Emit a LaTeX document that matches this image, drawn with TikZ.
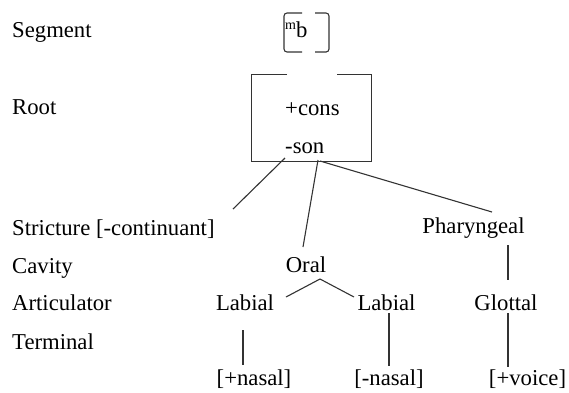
\documentclass[tikz,border=0pt]{standalone}
\usepackage{fontspec}
\setmainfont{Liberation Serif}
\begin{document}
\begin{tikzpicture}[x=1pt,y=-1pt,
  lbl/.style={inner sep=0pt,font=\fontsize{22.7}{27}\selectfont},
  edge/.style={draw=black!80,line width=1.1pt}]
\useasboundingbox (0,0) rectangle (569,392);

% tier names
\node[lbl,anchor=base west] (tSegment)   at (12,37)  {Segment};
\node[lbl,anchor=base west] (tRoot)      at (12,114) {Root};
\node[lbl,anchor=base west] (tStricture) at (12,235) {Stricture [-continuant]};
\node[lbl,anchor=base west] (tCavity)    at (12,273) {Cavity};
\node[lbl,anchor=base west] (tArtic)     at (12,310) {Articulator};
\node[lbl,anchor=base west] (tTerminal)  at (12,349) {Terminal};

% segment
\node[lbl,anchor=base west] (seg) at (285,37)
  {\raisebox{8pt}{\fontsize{14}{14}\selectfont m}b};
\draw[edge,rounded corners=3pt] (302,13) -- (284,13) -- (284,52) -- (302,52);
\draw[edge,rounded corners=3pt] (315,13) -- (329,13) -- (329,52) -- (315,52);

% root node
\node[minimum width=119pt,minimum height=86pt,inner sep=0pt] (root) at (311.5,118) {};
\draw[edge] ([xshift=-24.5pt]root.north) -- (root.north west) -- (root.south west)
  -- (root.south east) -- (root.north east) -- ([xshift=25.5pt]root.north);
\node[lbl,anchor=base west] (cons) at (285,115) {+cons};
\node[lbl,anchor=base west] (son)  at (285,153) {-son};

% dependents
\node[lbl,anchor=base] (phar)    at (473.5,233) {Pharyngeal};
\node[lbl,anchor=base] (oral)    at (306,272)   {Oral};
\node[lbl,anchor=base] (labA)    at (245,310)   {Labial};
\node[lbl,anchor=base] (labB)    at (386.5,310) {Labial};
\node[lbl,anchor=base] (glottal) at (506,310)   {Glottal};
\node[lbl,anchor=base] (nasP)    at (254,385)   {[+nasal]};
\node[lbl,anchor=base] (nasM)    at (389,385)   {[-nasal]};
\node[lbl,anchor=base] (voice)   at (527.5,385) {[+voice]};

% connector ends
\coordinate (r1) at (285,158);  \coordinate (strEnd) at (233,209);
\coordinate (r2) at (318,160);  \coordinate (oralTop) at (303,247);
\coordinate (r3) at (320,161);  \coordinate (pharTop) at (492,212);
\coordinate (oralBot) at (320,279);
\coordinate (labATop) at (286,297); \coordinate (labBTop) at (354,297);
\coordinate (pharBot) at (508,245); \coordinate (glotTop) at (508,280);
\coordinate (labABot) at (243,330); \coordinate (nasPTop) at (243,365);
\coordinate (labBBot) at (389,313); \coordinate (nasMTop) at (389,366);
\coordinate (glotBot) at (508,313); \coordinate (voiceTop) at (508,367);

\draw[edge] (r1) -- (strEnd);
\draw[edge] (r2) -- (oralTop);
\draw[edge] (r3) -- (pharTop);
\draw[edge] (labATop) -- (oralBot) -- (labBTop);
\draw[edge] (pharBot) -- (glotTop);
\draw[edge] (labABot) -- (nasPTop);
\draw[edge] (labBBot) -- (nasMTop);
\draw[edge] (glotBot) -- (voiceTop);
\end{tikzpicture}
\end{document}
